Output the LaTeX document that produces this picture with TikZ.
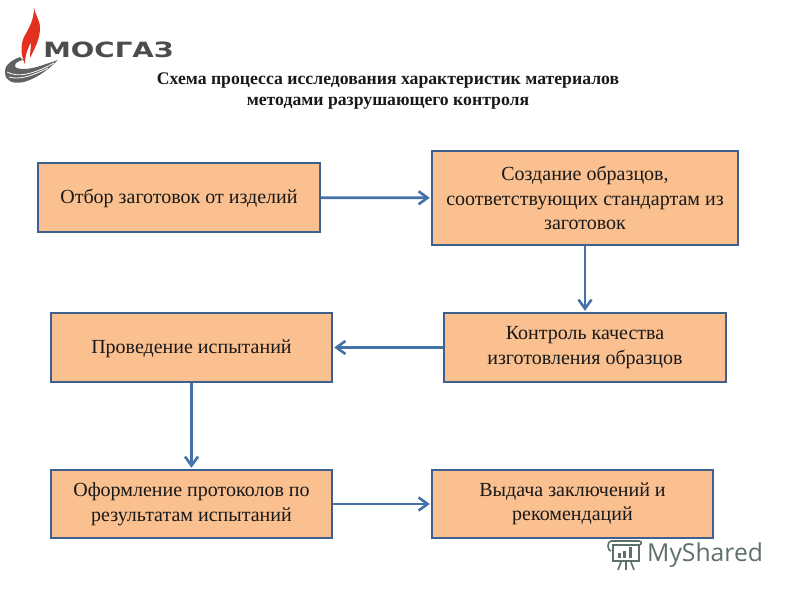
\documentclass[tikz,border=0pt]{standalone}
\usepackage{fontspec}
\setmainfont{Liberation Serif}
\newfontfamily\logofont{DejaVu Sans}
\newfontfamily\msfont{Open Sans}
\usetikzlibrary{arrows.meta}
\definecolor{boxfill}{HTML}{FAC090}
\definecolor{boxline}{HTML}{3F5F8F}
\definecolor{arrowblue}{HTML}{4472A8}
\definecolor{msgreen}{HTML}{5F706B}
\definecolor{flame}{HTML}{E4301E}
\tikzset{
 stepbox/.style={draw=boxline,line width=2.4pt,fill=boxfill,align=center,inner sep=0pt,
   font=\fontsize{20}{24.5}\selectfont,text=black!90,
   execute at begin node={\rule{0pt}{17pt}}},
 flow/.style={draw=arrowblue,line width=2.8pt,-{Straight Barb[length=9pt,width=13pt,line width=2.6pt]},shorten >=1pt},
 titletext/.style={align=center,font=\bfseries\fontsize{17.7}{21}\selectfont,text=black!90},
}
\begin{document}
\begin{tikzpicture}[x=1pt,y=-1pt]
\useasboundingbox (0,0) rectangle (800,600);
\fill[white] (0,0) rectangle (800,600);
% logo
\fill[flame] (34,8) .. controls (35,14) and (40,20) .. (40,28) .. controls (40,38) and (36,46) .. (30,58) .. controls (30,52) and (31,47) .. (31,42) .. controls (28,48) and (25,55) .. (25,64) .. controls (21,56) and (20,46) .. (24,37) .. controls (29,28) and (34,20) .. (34,8) -- cycle;
\fill[black!62] (20,57) .. controls (9,61) and (4,67) .. (5,73) .. controls (6,82) and (13,84) .. (24,82) .. controls (38,78) and (50,68) .. (58,60) -- (40,66) .. controls (28,70) and (16,70) .. (15,66) .. controls (15,63) and (18,61) .. (23,60) -- cycle;
\draw[white,line width=.8pt] (7,72) .. controls (18,78) and (34,74) .. (54,63);
\draw[white,line width=.8pt] (9,77) .. controls (20,80) and (32,76) .. (48,68);
\node[font=\logofont\bfseries\fontsize{21}{21}\selectfont,text=black!70,inner sep=0pt,xscale=1.32] (logo) at (108.5,50) {МОСГАЗ};
% title
\node[titletext] (title) at (388,91.5) {Схема процесса исследования характеристик материалов\\методами разрушающего контроля};
% boxes
\node[stepbox,minimum width=282pt,minimum height=69pt] (a) at (179,197.5) {Отбор заготовок от изделий};
\node[stepbox,minimum width=306pt,minimum height=94pt] (b) at (585,198) {Создание образцов,\\соответствующих стандартам из\\заготовок};
\node[stepbox,minimum width=282pt,minimum height=69pt] (c) at (585,347.5) {Контроль качества\\изготовления образцов};
\node[stepbox,minimum width=281pt,minimum height=69pt] (d) at (191.5,347.5) {Проведение испытаний};
\node[stepbox,minimum width=281pt,minimum height=68pt] (e) at (191.5,504) {Оформление протоколов по\\результатам испытаний};
\node[stepbox,minimum width=281pt,minimum height=68pt] (f) at (572.5,504) {Выдача заключений и\\рекомендаций};
% arrows
\draw[flow] (a) -- (b);
\draw[flow] (b) -- (c);
\draw[flow] (c) -- (d);
\draw[flow] (d) -- (e);
\draw[flow] (e) -- (f);
% watermark
\begin{scope}[draw=msgreen,line width=1.6pt]
\draw (613,544) -- (613,561) -- (639,561) -- (639,544);
\draw (611,541) -- (639,541) .. controls (642,541) and (642,545) .. (639,545) -- (613,545);
\draw (611,541) .. controls (607,541) and (607,551) .. (611,551);
\fill[msgreen] (618,553) rectangle (621,558);
\fill[msgreen] (623,551) rectangle (626,558);
\fill[msgreen] (629,547) rectangle (632,558);
\draw (621,562) -- (618,570) (626,562) -- (626,570) (631,562) -- (634,570);
\end{scope}
\node[font=\msfont\fontsize{24.7}{24.7}\selectfont,text=msgreen,inner sep=0pt,anchor=west] (ms) at (647,555) {MyShared};
\end{tikzpicture}
\end{document}
